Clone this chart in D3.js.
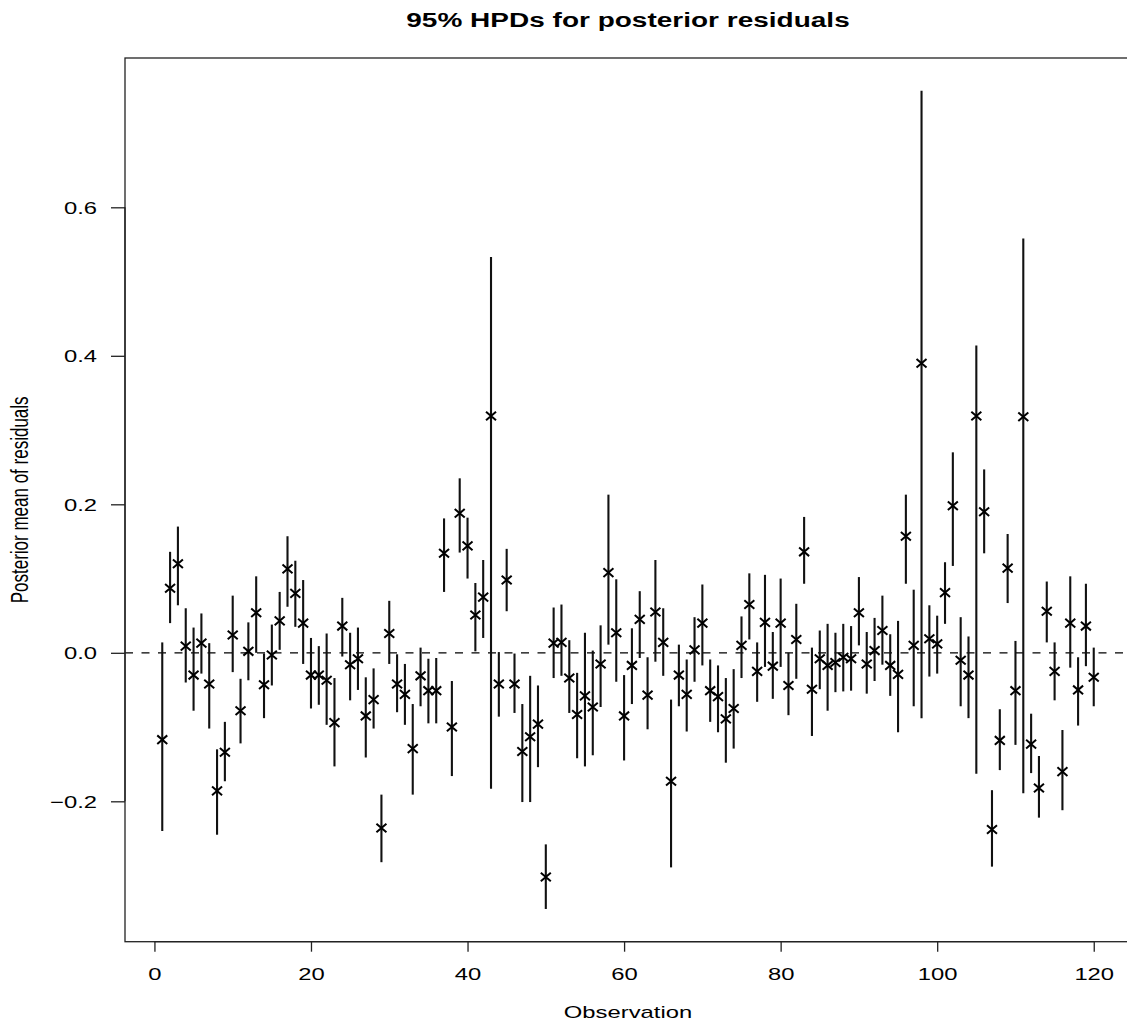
<!DOCTYPE html>
<html>
<head>
<meta charset="utf-8">
<script src="https://cdn.jsdelivr.net/npm/d3@7"></script>
<style>
  body { margin: 0; background: #fff; }
</style>
</head>
<body>
<div id="vis"></div>
<script>
// posterior mean of residuals per observation (1..120), with 95% HPD bounds
const means = [
  -0.117, 0.087, 0.120, 0.009, -0.030, 0.013, -0.042, -0.186, -0.134, 0.024,
  -0.078, 0.002, 0.054, -0.043, -0.003, 0.043, 0.113, 0.080, 0.040, -0.030,
  -0.030, -0.037, -0.094, 0.036, -0.016, -0.008, -0.085, -0.063, -0.236, 0.026,
  -0.042, -0.056, -0.129, -0.031, -0.051, -0.051, 0.134, -0.100, 0.188, 0.144,
  0.051, 0.075, 0.319, -0.042, 0.098, -0.042, -0.133, -0.113, -0.096, -0.302,
  0.013, 0.014, -0.034, -0.083, -0.058, -0.073, -0.015, 0.108, 0.027, -0.085,
  -0.017, 0.045, -0.057, 0.055, 0.014, -0.173, -0.030, -0.056, 0.004, 0.040,
  -0.051, -0.059, -0.089, -0.075, 0.010, 0.065, -0.025, 0.041, -0.018, 0.040,
  -0.044, 0.018, 0.136, -0.049, -0.008, -0.017, -0.013, -0.006, -0.008, 0.054,
  -0.015, 0.003, 0.030, -0.017, -0.029, 0.157, 0.010, 0.390, 0.019, 0.012,
  0.081, 0.198, -0.010, -0.030, 0.319, 0.190, -0.238, -0.118, 0.114, -0.051,
  0.318, -0.123, -0.182, 0.056, -0.025, -0.160, 0.040, -0.050, 0.036, -0.033
];
const lower = [
  -0.240, 0.040, 0.064, -0.040, -0.078, -0.028, -0.102, -0.245, -0.173, -0.026,
  -0.122, -0.037, 0.000, -0.088, -0.044, 0.004, 0.062, 0.035, -0.015, -0.075,
  -0.070, -0.097, -0.153, -0.005, -0.064, -0.050, -0.141, -0.102, -0.282, -0.015,
  -0.080, -0.097, -0.191, -0.072, -0.095, -0.095, 0.082, -0.166, 0.135, 0.100,
  0.002, 0.020, -0.183, -0.086, 0.056, -0.081, -0.201, -0.201, -0.154, -0.345,
  -0.034, -0.031, -0.081, -0.142, -0.153, -0.138, -0.073, 0.011, -0.039, -0.145,
  -0.069, -0.007, -0.103, -0.012, -0.031, -0.289, -0.072, -0.106, -0.039, -0.017,
  -0.093, -0.107, -0.148, -0.129, -0.034, 0.018, -0.066, -0.019, -0.062, -0.019,
  -0.084, -0.035, 0.093, -0.112, -0.049, -0.078, -0.053, -0.052, -0.051, 0.010,
  -0.055, -0.038, -0.016, -0.058, -0.107, 0.093, -0.072, -0.088, -0.032, -0.028,
  0.039, 0.117, -0.072, -0.088, -0.163, 0.134, -0.288, -0.158, 0.067, -0.124,
  -0.189, -0.162, -0.222, 0.014, -0.064, -0.212, -0.020, -0.098, -0.018, -0.072
];
const upper = [
  0.014, 0.136, 0.170, 0.060, 0.034, 0.053, 0.013, -0.130, -0.093, 0.077,
  -0.035, 0.041, 0.103, -0.001, 0.038, 0.082, 0.157, 0.124, 0.098, 0.020,
  0.009, 0.026, -0.034, 0.074, 0.027, 0.034, -0.033, -0.021, -0.191, 0.070,
  -0.002, -0.015, -0.069, 0.007, -0.008, -0.007, 0.181, -0.038, 0.235, 0.182,
  0.094, 0.125, 0.533, 0.001, 0.140, -0.001, -0.069, -0.031, -0.044, -0.258,
  0.061, 0.065, 0.017, -0.027, 0.027, 0.003, 0.037, 0.213, 0.099, -0.030,
  0.033, 0.083, -0.006, 0.125, 0.060, -0.063, 0.011, -0.009, 0.048, 0.092,
  -0.009, -0.017, -0.034, -0.022, 0.049, 0.107, 0.014, 0.105, 0.028, 0.100,
  0.000, 0.066, 0.183, 0.007, 0.030, 0.039, 0.027, 0.039, 0.036, 0.102,
  0.028, 0.047, 0.077, 0.025, 0.043, 0.213, 0.085, 0.757, 0.064, 0.050,
  0.122, 0.270, 0.048, 0.022, 0.414, 0.247, -0.185, -0.076, 0.160, 0.016,
  0.558, -0.082, -0.139, 0.096, 0.014, -0.104, 0.103, -0.006, 0.093, 0.007
];
const xTicks = [0, 20, 40, 60, 80, 100, 120];
const yTicks = [-0.2, 0, 0.2, 0.4, 0.6];
const yTickLabels = ['\u22120.2', '0.0', '0.2', '0.4', '0.6'];

const width = 1127;
const height = 1025;
const box = { left: 125, right: 1131, top: 58, bottom: 941.7 };
const stretch = 1.4;   // the original raster is wider than tall, text is stretched sideways
const font = 'Liberation Sans, Arial, Helvetica, sans-serif';

const data = means.map((m, i) => ({ obs: i + 1, mean: m, lo: lower[i], hi: upper[i] }));

// R default: extend the data range by 4% on each side
function pad(ext) {
    const r = ext[1] - ext[0];
    return [ext[0] - 0.04 * r, ext[1] + 0.04 * r];
}

const x = d3.scaleLinear()
    .domain(pad(d3.extent(data, d => d.obs)))
    .range([box.left, box.right]);

const y = d3.scaleLinear()
    .domain(pad([d3.min(lower), d3.max(upper)]))
    .range([box.bottom, box.top]);

const svg = d3.select('#vis')
    .append('svg')
    .attr('width', width)
    .attr('height', height)
    .style('display', 'block');

svg.append('rect')
    .attr('width', width)
    .attr('height', height)
    .attr('fill', '#fff');

// zero reference line
svg.append('line')
    .attr('x1', box.left)
    .attr('x2', box.right)
    .attr('y1', y(0))
    .attr('y2', y(0))
    .attr('stroke', '#000')
    .attr('stroke-width', 1.2)
    .attr('stroke-dasharray', '8,8.5');

// HPD intervals
svg.append('g')
    .selectAll('line')
    .data(data)
    .join('line')
    .attr('x1', d => x(d.obs))
    .attr('x2', d => x(d.obs))
    .attr('y1', d => y(d.lo))
    .attr('y2', d => y(d.hi))
    .attr('stroke', '#111')
    .attr('stroke-width', 2.1);

// posterior means as x marks
const hw = 5, hh = 4.3;
svg.append('g')
    .selectAll('path')
    .data(data)
    .join('path')
    .attr('d', d => {
        const cx = x(d.obs), cy = y(d.mean);
        return `M${cx - hw},${cy - hh}L${cx + hw},${cy + hh}M${cx - hw},${cy + hh}L${cx + hw},${cy - hh}`;
    })
    .attr('fill', 'none')
    .attr('stroke', '#000')
    .attr('stroke-width', 2);

// frame
svg.append('rect')
    .attr('x', box.left)
    .attr('y', box.top)
    .attr('width', box.right - box.left)
    .attr('height', box.bottom - box.top)
    .attr('fill', 'none')
    .attr('stroke', '#222')
    .attr('stroke-width', 1.3);

// bottom axis
const xAxis = svg.append('g')
    .attr('transform', `translate(0, ${box.bottom})`)
    .call(d3.axisBottom(x).tickValues(xTicks).tickSize(10).tickSizeOuter(0).tickFormat(d3.format('d')));
xAxis.select('.domain')
    .attr('d', `M${x(xTicks[0])},0H${x(xTicks[xTicks.length - 1])}`)
    .attr('stroke', '#222')
    .attr('stroke-width', 1.3);
xAxis.selectAll('.tick line').attr('stroke', '#222').attr('stroke-width', 1.3);
xAxis.selectAll('.tick text')
    .attr('x', null)
    .attr('y', null)
    .attr('dy', null)
    .attr('transform', `translate(0, 38) scale(${stretch}, 1)`)
    .attr('font-family', font)
    .attr('font-size', '17px')
    .attr('fill', '#000');

// left axis
const yAxis = svg.append('g')
    .attr('transform', `translate(${box.left}, 0)`)
    .call(d3.axisLeft(y).tickValues(yTicks).tickSize(14).tickSizeOuter(0)
        .tickFormat((d, i) => yTickLabels[i]));
yAxis.select('.domain')
    .attr('d', `M0,${y(yTicks[0])}V${y(yTicks[yTicks.length - 1])}`)
    .attr('stroke', '#222')
    .attr('stroke-width', 1.3);
yAxis.selectAll('.tick line').attr('stroke', '#222').attr('stroke-width', 1.3);
yAxis.selectAll('.tick text')
    .attr('x', null)
    .attr('dy', null)
    .attr('text-anchor', 'end')
    .attr('transform', `translate(-28, 6) scale(${stretch}, 1)`)
    .attr('font-family', font)
    .attr('font-size', '17px')
    .attr('fill', '#000');

// titles
const midX = (box.left + box.right) / 2;
svg.append('text')
    .attr('transform', `translate(${midX}, 27) scale(${stretch}, 1)`)
    .attr('text-anchor', 'middle')
    .attr('font-family', font)
    .attr('font-weight', 'bold')
    .attr('font-size', '20px')
    .text('95% HPDs for posterior residuals');

svg.append('text')
    .attr('transform', `translate(${midX}, 1018) scale(${stretch}, 1)`)
    .attr('text-anchor', 'middle')
    .attr('font-family', font)
    .attr('font-size', '17px')
    .text('Observation');

svg.append('text')
    .attr('transform', `translate(28, ${(box.top + box.bottom) / 2}) scale(${stretch}, 1) rotate(-90)`)
    .attr('text-anchor', 'middle')
    .attr('font-family', font)
    .attr('font-size', '17px')
    .text('Posterior mean of residuals');
</script>
</body>
</html>
